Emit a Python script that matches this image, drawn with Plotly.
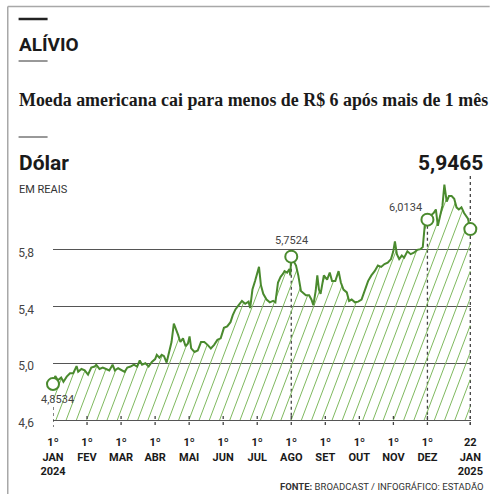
import numpy as np
import plotly.graph_objects as go

# ---------------- data ----------------
# x position measured in months from 1 Jan 2024 (0 = 1º JAN, 11 = 1º DEZ, 12.26 = 22 JAN 2025)
mes_pos = [0.0, 0.066, 0.143, 0.24, 0.307, 0.403, 0.50, 0.596, 0.692, 0.74, 0.836, 0.932,
           1.029, 1.125, 1.221, 1.269, 1.366, 1.462, 1.558, 1.654, 1.75, 1.818, 1.914,
           2.01, 2.107, 2.183, 2.28, 2.376, 2.472, 2.549, 2.616, 2.713, 2.809, 2.905,
           3.001, 3.049, 3.126, 3.194, 3.261, 3.338, 3.415, 3.482, 3.55, 3.608, 3.675,
           3.742, 3.819, 3.896, 3.964, 4.012, 4.06, 4.156, 4.252, 4.348, 4.445, 4.541,
           4.637, 4.734, 4.83, 4.926, 5.022, 5.118, 5.215, 5.282, 5.359, 5.455, 5.551,
           5.647, 5.744, 5.792, 5.859, 5.936, 5.984, 6.052, 6.109, 6.177, 6.273, 6.369,
           6.466, 6.533, 6.61, 6.687, 6.754, 6.802, 6.879, 6.947, 6.97, 7.0, 7.139,
           7.206, 7.284, 7.36, 7.428, 7.524, 7.592, 7.649, 7.717, 7.765, 7.813, 7.861,
           7.957, 8.053, 8.13, 8.198, 8.294, 8.39, 8.457, 8.534, 8.631, 8.698, 8.775,
           8.871, 8.967, 9.064, 9.16, 9.256, 9.353, 9.449, 9.545, 9.641, 9.738, 9.834,
           9.93, 9.997, 10.045, 10.103, 10.17, 10.247, 10.315, 10.411, 10.507, 10.603,
           10.7, 10.796, 10.863, 10.921, 11.0, 11.085, 11.181, 11.248, 11.306, 11.373,
           11.44, 11.498, 11.566, 11.633, 11.71, 11.787, 11.854, 11.922, 11.999, 12.076,
           12.143, 12.191, 12.26]
dolar = [4.8534, 4.91, 4.88, 4.90, 4.87, 4.906, 4.93, 4.93, 4.98, 4.94, 4.96, 4.95,
         4.92, 4.97, 4.977, 4.99, 4.96, 4.97, 4.96, 4.95, 4.99, 4.95, 4.965,
         4.95, 4.94, 4.97, 4.977, 4.99, 4.977, 5.02, 4.99, 5.0, 4.977, 5.01,
         5.03, 5.06, 5.04, 5.06, 5.05, 5.005, 5.09, 5.15, 5.28, 5.235, 5.20,
         5.15, 5.176, 5.12, 5.14, 5.19, 5.105, 5.08, 5.09, 5.15, 5.15, 5.13,
         5.105, 5.13, 5.165, 5.176, 5.25, 5.26, 5.29, 5.34, 5.38, 5.41, 5.44,
         5.42, 5.435, 5.39, 5.52, 5.58, 5.62, 5.68, 5.55, 5.49, 5.45, 5.43,
         5.44, 5.43, 5.57, 5.61, 5.63, 5.65, 5.64, 5.665, 5.62, 5.7524, 5.69,
         5.62, 5.51, 5.49, 5.48, 5.48, 5.45, 5.41, 5.51, 5.62, 5.52, 5.49,
         5.62, 5.59, 5.64, 5.58, 5.58, 5.65, 5.57, 5.52, 5.50, 5.44, 5.45,
         5.43, 5.435, 5.45, 5.52, 5.58, 5.62, 5.65, 5.69, 5.68, 5.70, 5.71,
         5.735, 5.79, 5.86, 5.77, 5.735, 5.76, 5.745, 5.79, 5.77, 5.78,
         5.80, 5.805, 5.82, 5.97, 6.0134, 6.04, 6.06, 6.085, 5.97, 6.05,
         6.11, 6.26, 6.14, 6.18, 6.18, 6.16, 6.10, 6.085, 6.10, 6.06,
         6.04, 6.02, 5.9465]

destaque_pos = [0.0, 7.0, 11.0, 12.26]
destaque_val = [4.8534, 5.7524, 6.0134, 5.9465]
destaque_txt = ["4,8534", "5,7524", "6,0134", "5,9465"]

tick_pos = [0, 1, 2, 3, 4, 5, 6, 7, 8, 9, 10, 11, 12.26]
tick_txt = ["1º<br>JAN<br>2024", "1º<br>FEV", "1º<br>MAR", "1º<br>ABR", "1º<br>MAI",
            "1º<br>JUN", "1º<br>JUL", "1º<br>AGO", "1º<br>SET", "1º<br>OUT",
            "1º<br>NOV", "1º<br>DEZ", "22<br>JAN<br>2025"]
y_ticks = [4.6, 5.0, 5.4, 5.8]
y_ticktxt = ["4,6", "5,0", "5,4", "5,8"]

# ---------------- layout geometry ----------------
W, H = 495, 494
L, R, T, B = 53, 17, 179, 74
PW, PH = W - L - R, H - T - B
XR = [0, 12.28]
YR = [4.6, 6.3]

def px(p):  # pixel x -> paper
    return (p - L) / PW

def py(p):  # pixel y -> paper
    return (H - B - p) / PH

GREEN = "#4a8a2e"
HATCH = "#7fb95f"
NUMF = "Roboto"

# ---------------- hatch lines under the curve ----------------
mx = np.array(mes_pos)
my = np.array(dolar)
ppx = PW / (XR[1] - XR[0])
ppy = PH / (YR[1] - YR[0])
slope = 2.6
spacing = 10.4
hh = np.arange(0, PH + 0.5, 0.5)
hx, hy = [], []
for s in np.arange(3.0 - (PH / slope // spacing + 1) * spacing, PW, spacing):
    xd = XR[0] + (s + hh / slope) / ppx
    yd = YR[0] + hh / ppy
    ok = (xd >= mx[0]) & (xd <= mx[-1])
    cur = np.interp(xd, mx, my)
    inside = ok & (yd <= cur - 0.004)
    i = 0
    n = len(hh)
    while i < n:
        if inside[i]:
            j = i
            while j + 1 < n and inside[j + 1]:
                j += 1
            hx += [xd[i], xd[j], None]
            hy += [yd[i], yd[j], None]
            i = j + 1
        else:
            i += 1

fig = go.Figure()
fig.add_trace(go.Scatter(x=hx, y=hy, mode="lines",
                         line=dict(color=HATCH, width=1), hoverinfo="skip", showlegend=False))
fig.add_trace(go.Scatter(x=mes_pos, y=dolar, mode="lines",
                         line=dict(color=GREEN, width=2), showlegend=False))
fig.add_trace(go.Scatter(x=destaque_pos, y=destaque_val, mode="markers", cliponaxis=False,
                         marker=dict(symbol="circle", size=12, color="white",
                                     line=dict(color=GREEN, width=2)),
                         showlegend=False))

shapes = []
DOT = dict(color="#444", width=1.3, dash="dot")
# month tick marks
for i, t in enumerate(tick_pos):
    top = 407 if i == 0 else 416
    shapes.append(dict(type="line", xref="x", yref="paper", x0=t, x1=t,
                       y0=py(top), y1=py(427), line=DOT, layer="above"))
# dotted lines from highlighted points
for k in (1, 2):
    shapes.append(dict(type="line", xref="x", yref="y", x0=destaque_pos[k], x1=destaque_pos[k],
                       y0=destaque_val[k], y1=YR[0], line=DOT, layer="below"))
shapes.append(dict(type="line", xref="x", yref="paper", x0=destaque_pos[3], x1=destaque_pos[3],
                   y0=py(176), y1=py(427), line=DOT, layer="below"))
# frame
FR = dict(color="#a8a8a8", width=1.5)
shapes.append(dict(type="line", xref="paper", yref="paper", x0=px(7), x1=px(W + 2),
                   y0=py(6.5), y1=py(6.5), line=FR))
shapes.append(dict(type="line", xref="paper", yref="paper", x0=px(7), x1=px(7),
                   y0=py(6.5), y1=py(H + 2), line=FR))
# short rules
shapes.append(dict(type="line", xref="paper", yref="paper", x0=px(18), x1=px(47.5),
                   y0=py(19), y1=py(19), line=dict(color="#222", width=2.5)))
for yy in (61, 137):
    shapes.append(dict(type="line", xref="paper", yref="paper", x0=px(18), x1=px(47.5),
                       y0=py(yy), y1=py(yy), line=dict(color="#333", width=1)))

ann = []
def txt(x, y, text, size, family, color="#1a1a1a", weight="normal", xanchor="left", yanchor="middle"):
    ann.append(dict(xref="paper", yref="paper", x=px(x), y=py(y), text=text, showarrow=False,
                    xanchor=xanchor, yanchor=yanchor,
                    font=dict(size=size, family=family, color=color, weight=weight)))

txt(16, 44, "ALÍVIO", 19, NUMF, weight="bold")
txt(16, 100, "Moeda americana cai para menos de R$ 6 após mais de 1 mês", 17.9,
    "Liberation Serif, serif", weight="bold")
txt(16, 163, "Dólar", 21, NUMF, weight="bold")
txt(16, 189, "EM REAIS", 11, NUMF, color="#333")
txt(493, 494, "<b>FONTE:</b> BROADCAST / INFOGRÁFICO: ESTADÃO", 9.5, NUMF, color="#333",
    xanchor="right", yanchor="bottom")

# value labels, anchored to the data points
lab_cfg = [dict(xshift=4, yshift=-15, xanchor="center", size=11, weight="normal", color="#444"),
           dict(xshift=0, yshift=16, xanchor="center", size=11, weight="normal", color="#444"),
           dict(xshift=-3, yshift=12, xanchor="right", size=11, weight="normal", color="#444"),
           dict(xshift=15, yshift=66, xanchor="right", size=21, weight="bold", color="#1a1a1a")]
for xv, yv, t, c in zip(destaque_pos, destaque_val, destaque_txt, lab_cfg):
    ann.append(dict(x=xv, y=yv, xref="x", yref="y", text=t, showarrow=False,
                    xanchor=c["xanchor"], yanchor="middle", xshift=c["xshift"], yshift=c["yshift"],
                    font=dict(size=c["size"], family=NUMF, color=c["color"], weight=c["weight"])))

fig.update_layout(
    width=W, height=H, margin=dict(l=L, r=R, t=T, b=B, pad=0),
    paper_bgcolor="white", plot_bgcolor="white",
    shapes=shapes, annotations=ann,
    xaxis=dict(range=XR, tickvals=tick_pos, ticktext=tick_txt, showgrid=False, zeroline=False,
               showline=True, linecolor="#555", linewidth=1, ticks="",
               ticklabelstandoff=12,
               tickfont=dict(family=NUMF, size=11, color="#1a1a1a", weight="bold")),
    yaxis=dict(range=YR, tickvals=y_ticks, ticktext=y_ticktxt, showgrid=True,
               gridcolor="#555", gridwidth=1, zeroline=False, showline=False, ticks="",
               ticklabelstandoff=18, ticklabelshift=3,
               tickfont=dict(family=NUMF, size=12, color="#444")),
)

fig.write_html("out.html")
